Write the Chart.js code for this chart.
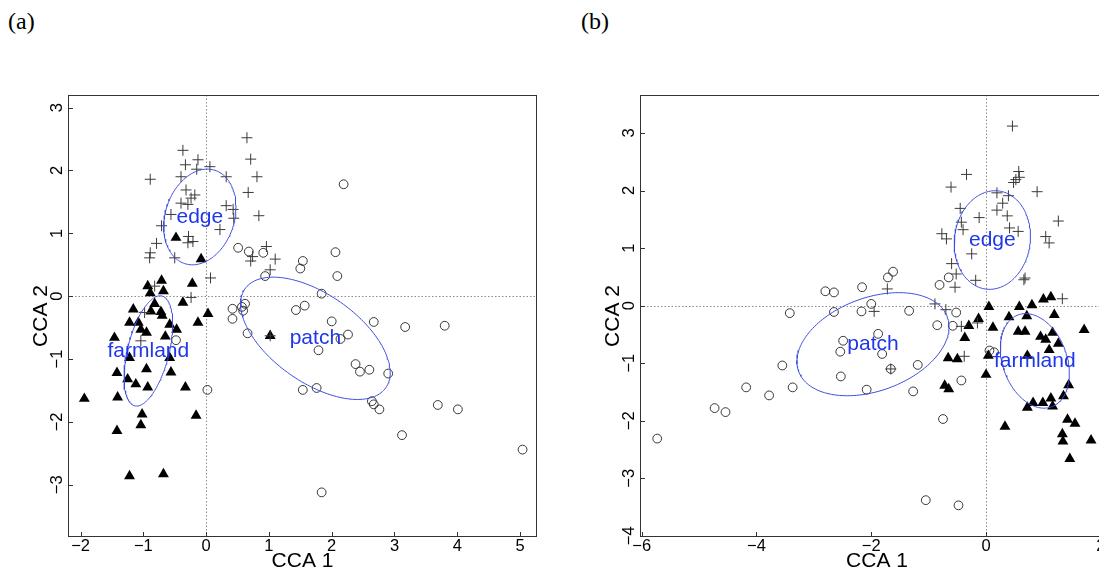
<!DOCTYPE html>
<html><head><meta charset="utf-8">
<script src="https://cdn.jsdelivr.net/npm/chart.js@4"></script>
<style>
html,body{margin:0;padding:0;width:1099px;height:573px;overflow:hidden;background:#fff}
canvas{position:absolute;top:0}
#ca{left:0}
#cb{left:572px}
.pl{position:absolute;top:9px;font-family:"Liberation Serif";font-size:24px;line-height:24px;color:#000}
</style></head><body>
<div class="pl" style="left:8px">(a)</div>
<div class="pl" style="left:581px">(b)</div>
<canvas id="ca" width="560" height="573"></canvas>
<canvas id="cb" width="560" height="573"></canvas>
<script>
// ---------- Panel (a) data ----------
const edgeAx = [0.65,-0.37,0.71,-0.33,-0.13,-0.15,0.06,-0.89,-0.40,0.32,0.81,-0.32,-0.18,-0.24,-0.40,0.67,-0.29,0.32,0.43,-0.56,0.84,0.44,-0.71,0.22,-0.28,-0.21,-0.29,-0.79,-0.89,-0.90,-0.50,0.96,0.74,0.71,1.10,1.02,0.07,-0.24,-0.82,-0.98,-1.04,1.02];
const edgeAy = [2.52,2.32,2.18,2.09,2.17,2.02,2.06,1.86,1.90,1.90,1.90,1.69,1.61,1.56,1.48,1.65,1.46,1.44,1.38,1.30,1.28,1.24,1.12,1.06,0.95,0.87,0.85,0.84,0.69,0.61,0.61,0.79,0.63,0.56,0.59,0.42,0.29,-0.02,0.16,-0.26,-0.71,-0.63];
const farmAx = [-0.48,-0.08,-0.93,-0.71,-0.22,-0.68,-0.89,-0.37,0.03,-1.16,-0.82,-0.88,-0.72,-0.70,-1.22,-1.08,-0.58,-0.13,-1.04,-0.95,-0.47,-1.46,-0.65,-1.22,-0.58,-0.95,-1.42,-0.56,-1.25,-1.12,-0.93,-0.33,-1.94,-1.41,-1.02,-1.04,-0.16,-1.42,-1.22,-0.68,1.02];
const farmAy = [0.93,0.59,0.16,0.25,0.20,0.08,0.05,-0.10,-0.28,-0.21,-0.12,-0.24,-0.25,-0.31,-0.42,-0.42,-0.45,-0.42,-0.53,-0.58,-0.53,-0.66,-0.64,-0.98,-0.98,-1.16,-1.22,-1.21,-1.32,-1.40,-1.45,-1.45,-1.63,-1.61,-1.88,-2.05,-1.90,-2.14,-2.86,-2.83,-0.63];
const patchAx = [2.19,0.51,0.68,0.91,2.06,1.54,1.50,2.09,0.94,1.84,1.57,1.43,0.42,0.62,0.57,0.59,0.42,2.00,2.67,3.17,3.80,0.66,2.26,2.14,1.79,2.38,2.45,2.60,2.90,0.02,1.54,1.76,2.64,2.67,2.76,3.69,4.01,3.12,5.04,1.84,-0.48];
const patchAy = [1.78,0.77,0.71,0.69,0.70,0.56,0.44,0.32,0.32,0.04,-0.15,-0.22,-0.20,-0.12,-0.17,-0.23,-0.36,-0.40,-0.41,-0.49,-0.47,-0.59,-0.61,-0.68,-0.86,-1.08,-1.20,-1.17,-1.23,-1.49,-1.49,-1.46,-1.67,-1.72,-1.80,-1.73,-1.80,-2.21,-2.44,-3.12,-0.70];
const xTicksA = [-2,-1,0,1,2,3,4,5];
const yTicksA = [-3,-2,-1,0,1,2,3];
// ellipses (a): edge, patch, farmland
const groupNames = ['edge','patch','farmland'];
const ellAcx = [-0.10, 1.74, -0.92];
const ellAcy = [1.26, -0.67, -0.87];
const ellAa  = [0.78, 1.37, 0.90];
const ellAb  = [0.55, 0.70, 0.33];
const ellAang= [72, -35, 76];

// ---------- Panel (b) data ----------
const edgeBx = [0.46,-0.34,0.57,0.58,0.52,0.48,-0.61,0.89,0.19,0.39,0.29,-0.45,0.19,0.37,-0.12,1.26,-0.43,-0.40,0.41,0.56,-0.77,-0.69,1.04,1.10,-0.25,-0.60,-0.52,-0.54,-0.18,0.68,0.66,-1.72,1.33,-0.89,-0.70,-1.95,-0.43,-0.38,-0.15,-1.66];
const edgeBy = [3.12,2.28,2.33,2.23,2.19,2.14,2.06,1.98,1.96,1.91,1.78,1.69,1.66,1.56,1.53,1.47,1.45,1.32,1.35,1.29,1.25,1.16,1.20,1.09,0.90,0.73,0.55,0.32,0.44,0.48,0.45,0.29,0.12,0.03,-0.07,-0.10,-0.36,-0.88,-0.30,-1.10];
const patchBx = [-5.73,-4.73,-4.54,-4.18,-3.78,-3.37,-3.55,-3.42,-2.80,-2.65,-2.65,-2.16,-2.17,-2.00,-1.71,-1.62,-1.34,-1.88,-2.49,-2.54,-1.81,-2.53,-2.08,-1.19,-1.27,-0.81,-0.65,-0.52,-0.85,-0.58,-0.43,-0.75,-1.05,-0.48,0.06,0.14,-1.66];
const patchBy = [-2.31,-1.78,-1.85,-1.42,-1.56,-1.42,-1.04,-0.13,0.25,0.23,-0.11,0.32,-0.10,0.03,0.49,0.59,-0.09,-0.49,-0.61,-0.80,-0.84,-1.23,-1.46,-1.03,-1.49,0.36,0.49,-0.12,-0.34,-0.35,-1.30,-1.97,-3.38,-3.47,-0.78,-0.81,-1.10];
const farmBx = [0.05,0.58,0.80,1.00,1.13,1.19,0.40,0.71,1.71,-0.13,-0.30,0.12,0.56,0.68,1.16,0.95,1.04,1.26,1.10,-0.37,0.04,-0.66,-0.50,0.72,0.00,-0.72,-0.65,1.44,1.35,0.72,0.82,0.99,1.13,1.16,1.42,1.55,0.33,1.33,1.34,1.83,1.46];
const farmBy = [-0.02,-0.02,0.01,0.11,0.15,-0.16,-0.20,-0.18,-0.42,-0.23,-0.35,-0.38,-0.45,-0.45,-0.47,-0.54,-0.59,-0.66,-0.77,-0.56,-0.87,-0.91,-0.93,-0.87,-1.20,-1.39,-1.45,-1.38,-1.57,-1.77,-1.69,-1.69,-1.61,-1.75,-1.98,-2.05,-2.10,-2.23,-2.36,-2.34,-2.66];
const xTicksB = [-6,-4,-2,0,2];
const yTicksB = [-4,-3,-2,-1,0,1,2,3];
const ellBcx = [0.11, -1.97, 0.85];
const ellBcy = [1.14, -0.67, -0.96];
const ellBa  = [0.86, 1.38, 0.85];
const ellBb  = [0.66, 0.81, 0.56];
const ellBang= [82, 20, -70];

// ---------- helpers ----------
const FONT = 'Liberation Sans';
const pts = (xs, ys) => xs.map((x, i) => ({x, y: ys[i]}));
function ellipsePts(cx, cy, a, b, ang) {
  const out = [], t = ang * Math.PI / 180, n = 160;
  for (let k = 0; k <= n; k++) {
    const u = 2 * Math.PI * k / n, ex = a * Math.cos(u), ey = b * Math.sin(u);
    out.push({x: cx + ex * Math.cos(t) - ey * Math.sin(t), y: cy + ex * Math.sin(t) + ey * Math.cos(t)});
  }
  return out;
}
const fmt = v => (v < 0 ? '\u2212' : '') + Math.abs(v);

const boxPlugin = {
  id: 'box',
  beforeDatasetsDraw(chart) {
    const {ctx, chartArea: a, scales: {x, y}} = chart;
    ctx.save();
    ctx.strokeStyle = '#8c8c8c'; ctx.lineWidth = 1; ctx.setLineDash([1.5, 2]);
    const x0 = Math.round(x.getPixelForValue(0)) + 0.5, y0 = Math.round(y.getPixelForValue(0)) + 0.5;
    ctx.beginPath();
    ctx.moveTo(x0, a.top); ctx.lineTo(x0, a.bottom);
    ctx.moveTo(a.left, y0); ctx.lineTo(a.right, y0);
    ctx.stroke();
    ctx.restore();
  },
  afterDraw(chart) {
    const {ctx, chartArea: a, scales: {x, y}} = chart;
    const o = chart.options.plugins.box;
    ctx.save();
    ctx.strokeStyle = '#333'; ctx.lineWidth = 1;
    ctx.strokeRect(a.left + 0.5, a.top + 0.5, a.right - a.left - 1, a.bottom - a.top - 1);
    ctx.beginPath();
    x.ticks.forEach(t => { const p = Math.round(x.getPixelForValue(t.value)) + 0.5; ctx.moveTo(p, a.bottom); ctx.lineTo(p, a.bottom - 5); });
    y.ticks.forEach(t => { const p = Math.round(y.getPixelForValue(t.value)) + 0.5; ctx.moveTo(a.left, p); ctx.lineTo(a.left + 5, p); });
    ctx.stroke();
    ctx.fillStyle = '#1f37e8';
    ctx.font = '21px "' + FONT + '"';
    ctx.textAlign = 'center'; ctx.textBaseline = 'middle';
    o.names.forEach((n, i) => ctx.fillText(n, x.getPixelForValue(o.cx[i]), y.getPixelForValue(o.cy[i])));
    ctx.restore();
  }
};

function makeChart(id, d) {
  const datasets = [];
  for (let i = 0; i < 3; i++) {
    datasets.push({
      data: ellipsePts(d.cx[i], d.cy[i], d.a[i], d.b[i], d.ang[i]),
      showLine: true, pointRadius: 0, borderColor: '#3d4fdc', borderWidth: 1,
      fill: false, tension: 0, order: 0
    });
  }
  datasets.push({data: pts(d.ex, d.ey), pointStyle: 'cross', pointRadius: 5.5, borderColor: '#3a3a3a', borderWidth: 1, backgroundColor: 'rgba(0,0,0,0)', order: 1});
  datasets.push({data: pts(d.px, d.py), pointStyle: 'circle', pointRadius: 4.4, borderColor: '#222', borderWidth: 0.9, backgroundColor: 'rgba(0,0,0,0)', order: 2});
  datasets.push({data: pts(d.fx, d.fy), pointStyle: 'triangle', pointRadius: 6.3, borderColor: '#000', borderWidth: 0, backgroundColor: '#000', order: 3});
  return new Chart(document.getElementById(id), {
    type: 'scatter',
    data: {datasets},
    options: {
      responsive: false, animation: false, devicePixelRatio: 1,
      layout: {padding: {left: 0, top: 95, right: d.padR, bottom: 0}},
      plugins: {legend: {display: false}, tooltip: {enabled: false},
        box: {names: groupNames, cx: d.cx, cy: d.cy}},
      scales: {
        x: {
          type: 'linear', min: d.xmin, max: d.xmax,
          afterFit(s) { s.height = 36; },
          afterBuildTicks(s) { s.ticks = d.xt.map(v => ({value: v})); },
          grid: {display: false, drawTicks: false}, border: {display: false},
          ticks: {color: '#000', font: {family: FONT, size: 16.5}, padding: 0, callback: fmt, maxRotation: 0, autoSkip: false},
          title: {display: true, text: 'CCA 1', color: '#000', font: {family: FONT, size: 21}, padding: {top: 0, bottom: -1}}
        },
        y: {
          type: 'linear', min: d.ymin, max: d.ymax,
          afterFit(s) { s.width = 68; },
          afterBuildTicks(s) { s.ticks = d.yt.map(v => ({value: v})); },
          grid: {display: false, drawTicks: false}, border: {display: false},
          ticks: {color: '#000', font: {family: FONT, size: 16.5}, padding: 1, callback: fmt, minRotation: 90, maxRotation: 90, crossAlign: 'center', autoSkip: false},
          title: {display: true, text: 'CCA 2', color: '#000', font: {family: FONT, size: 21}, padding: {top: 29, bottom: 0}}
        }
      }
    },
    plugins: [boxPlugin]
  });
}

makeChart('ca', {
  ex: edgeAx, ey: edgeAy, px: patchAx, py: patchAy, fx: farmAx, fy: farmAy,
  cx: ellAcx, cy: ellAcy, a: ellAa, b: ellAb, ang: ellAang,
  xt: xTicksA, yt: yTicksA, xmin: -2.20, xmax: 5.27, ymin: -3.83, ymax: 3.20, padR: 23
});
makeChart('cb', {
  ex: edgeBx, ey: edgeBy, px: patchBx, py: patchBy, fx: farmBx, fy: farmBy,
  cx: ellBcx, cy: ellBcy, a: ellBa, b: ellBb, ang: ellBang,
  xt: xTicksB, yt: yTicksB, xmin: -6.03, xmax: 2.23, ymin: -4.02, ymax: 3.66, padR: 18
});
</script>
</body></html>
